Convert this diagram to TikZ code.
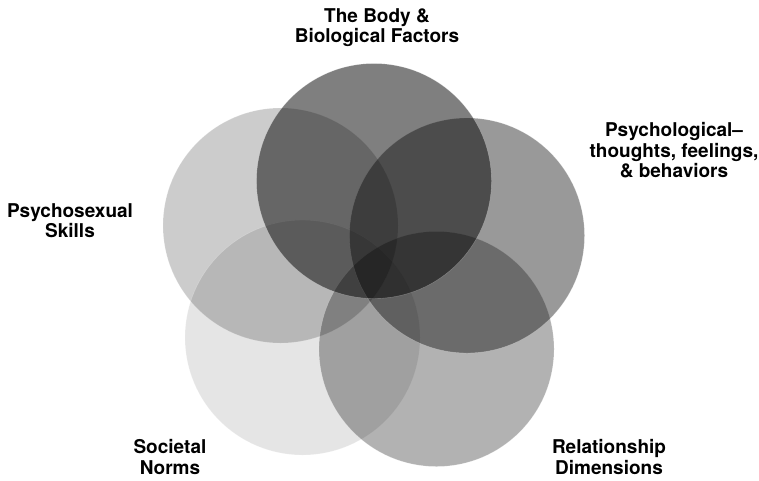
\documentclass[tikz,border=0pt]{standalone}
\usepackage{fontspec}
\setmainfont{TeX Gyre Heros}
\begin{document}
\begin{tikzpicture}[x=1pt, y=-1pt,
    ring/.style = {circle, minimum size=235pt, inner sep=0pt, fill=black, fill opacity=#1,
      draw=white, draw opacity=0.3, line width=0.4pt},
    caption/.style = {align=center, anchor=north, inner sep=0pt,
      font=\bfseries\fontsize{19}{20.5}\selectfont}]
\useasboundingbox (0,0) rectangle (759,480);
% the five spheres
\node[ring=0.2]  (skills)   at (280.5,225.5) {};
\node[ring=0.1]  (norms)    at (302.5,337.5) {};
\node[ring=0.3]  (relation) at (436.5,349)   {};
\node[ring=0.4]  (psych)    at (467,235.5)   {};
\node[ring=0.5]  (body)     at (374,181)     {};
% labels
\node[caption] (bodytext)     at (377,8.4)    {The Body \&\\Biological Factors};
\node[caption] (psychtext)    at (674,122.4)  {Psychological--\\thoughts, feelings,\\\& behaviors};
\node[caption] (skillstext)   at (70,203.4)   {Psychosexual\\Skills};
\node[caption] (normstext)    at (170,439.4)  {Societal\\Norms};
\node[caption] (relationtext) at (609,439.4)  {Relationship\\Dimensions};
\end{tikzpicture}
\end{document}
